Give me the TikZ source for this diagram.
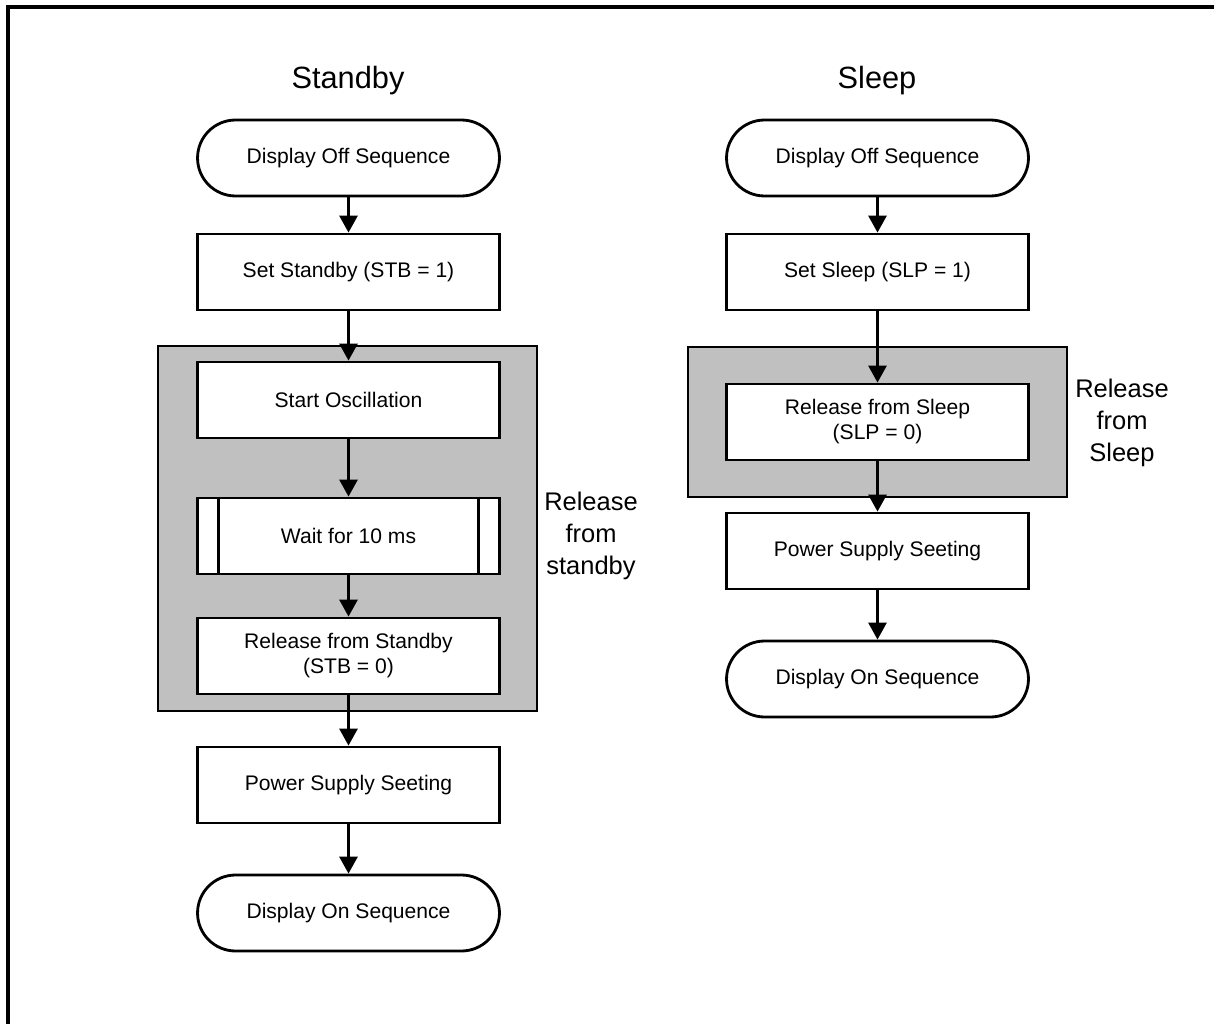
\documentclass[tikz,border=0pt]{standalone}
\usepackage{fontspec}
\setmainfont{Liberation Sans}
\usetikzlibrary{arrows.meta,calc}
\definecolor{grayfill}{RGB}{192,192,192}
\begin{document}
\begin{tikzpicture}[x=0.02cm,y=-0.02cm,
  box/.style={draw, line width=1.6pt, fill=white, minimum width=6.04cm, minimum height=1.52cm,
    align=center, font=\fontsize{12}{14.2}\selectfont, inner sep=0pt},
  term/.style={box, rounded corners=0.76cm},
  grp/.style={draw, line width=1.6pt, fill=grayfill, inner sep=0pt},
  arr/.style={line width=1.6pt, -{Triangle[width=0.36cm,length=0.34cm]}},
  ttl/.style={font=\fontsize{17.5}{21}\selectfont},
  lbl/.style={align=center, font=\fontsize{14.5}{18.1}\selectfont}]
\useasboundingbox (0,0) rectangle (1214,1024);
\clip (0,0) rectangle (1214,1024);
\draw[line width=2pt] (8,7) rectangle (1260,1070);

% groups
\node[grp, minimum width=7.58cm, minimum height=7.3cm] (g1) at (347.5,528.5) {};
\node[grp, minimum width=7.58cm, minimum height=3.0cm] (g2) at (877.5,422) {};

% titles
\node[ttl] (t1) at (348,81) {Standby};
\node[ttl] (t2) at (877,81) {Sleep};

% left column
\node[term] (a1) at (348.5,158) {Display Off Sequence};
\node[box] (a2) at (348.5,272) {Set Standby (STB = 1)};
\node[box] (a3) at (348.5,400) {Start Oscillation};
\node[box] (a4) at (348.5,536) {Wait for 10 ms};
\draw[line width=1.6pt] ($(a4.north west)+(22,0)$) -- ($(a4.south west)+(22,0)$);
\draw[line width=1.6pt] ($(a4.north east)+(-22,0)$) -- ($(a4.south east)+(-22,0)$);
\node[box] (a5) at (348.5,656) {Release from Standby\\(STB = 0)};
\node[box] (a6) at (348.5,785) {Power Supply Seeting};
\node[term] (a7) at (348.5,913) {Display On Sequence};

\node[lbl] (l1) at (591,536) {Release\\from\\standby};

% right column
\node[term] (b1) at (877.5,158) {Display Off Sequence};
\node[box] (b2) at (877.5,272) {Set Sleep (SLP = 1)};
\node[box] (b3) at (877.5,422) {Release from Sleep\\(SLP = 0)};
\node[box] (b4) at (877.5,551) {Power Supply Seeting};
\node[term] (b5) at (877.5,679) {Display On Sequence};

\node[lbl] (l2) at (1122,423) {Release\\from\\Sleep};

% arrows
\draw[arr] (a1) -- (a2);
\draw[arr] (a2) -- (a3);
\draw[arr] (a3) -- (a4);
\draw[arr] (a4) -- (a5);
\draw[arr] (a5) -- (a6);
\draw[arr] (a6) -- (a7);
\draw[arr] (b1) -- (b2);
\draw[arr] (b2) -- (b3);
\draw[arr] (b3) -- (b4);
\draw[arr] (b4) -- (b5);
\end{tikzpicture}
\end{document}
